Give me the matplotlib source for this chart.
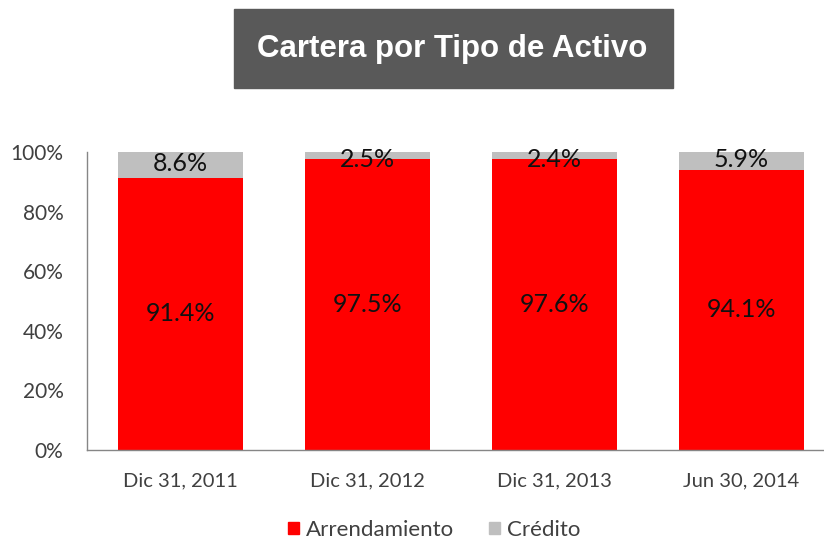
import matplotlib
matplotlib.use("Agg")
import matplotlib.pyplot as plt
from matplotlib.patches import Patch, Rectangle
import numpy as np

categories = ["Dic 31, 2011", "Dic 31, 2012", "Dic 31, 2013", "Jun 30, 2014"]
arrendamiento = [91.4, 97.5, 97.6, 94.1]
credito = [8.6, 2.5, 2.4, 5.9]
yticks = [0, 20, 40, 60, 80, 100]

W, H = 824, 542
fig = plt.figure(figsize=(W / 100, H / 100), dpi=100)
fam = ["Lato", "DejaVu Sans"]

ax = fig.add_axes([87 / W, 1 - 450 / H, (835 - 87) / W, (450 - 152) / H])
x = np.arange(len(categories))
red = "#FF0000"
grey = "#BFBFBF"
bw = 0.67
ax.bar(x, arrendamiento, width=bw, color=red, label="Arrendamiento")
ax.bar(x, credito, width=bw, bottom=arrendamiento, color=grey, label="Crédito")

for xi, a, c in zip(x, arrendamiento, credito):
    ax.text(xi, a / 2, f"{a:.1f}%", ha="center", va="center", fontsize=18,
            color="#111111", family=fam)
    ax.text(xi, a + c / 2 + (0.4 if c > 5 else -1.2), f"{c:.1f}%", ha="center", va="center",
            fontsize=18, color="#111111", family=fam)

ax.set_xlim(-0.5, 3.5)
ax.set_ylim(0, 100)
ax.set_yticks(yticks)
ax.set_yticklabels([f"{v}%" for v in yticks], family=fam, fontsize=15, color="#404040")
ax.set_xticks(x)
ax.set_xticklabels(categories, family=fam, fontsize=14.5, color="#404040")
ax.tick_params(length=0)
ax.tick_params(axis="y", pad=17)
ax.tick_params(axis="x", pad=16)
for s in ["top", "right"]:
    ax.spines[s].set_visible(False)
for s in ["left", "bottom"]:
    ax.spines[s].set_color("#868686")
    ax.spines[s].set_linewidth(1.0)

handles = [Patch(color=red, label="Arrendamiento"), Patch(color=grey, label="Crédito")]
fig.legend(handles=handles, loc="center", bbox_to_anchor=(434 / W, 1 - 530 / H), ncol=2,
           frameon=False, prop={"family": fam, "size": 16}, handlelength=0.5,
           handleheight=0.5, handletextpad=0.3, columnspacing=1.6, labelcolor="#404040")

fig.text(452 / W, 1 - 49 / H, "Cartera por Tipo de Activo", ha="center", va="center",
         fontsize=22.5, fontweight="bold", color="white", family=["Liberation Sans", "DejaVu Sans"])
fig.patches.append(Rectangle((234 / W, 1 - 88 / H), (673 - 234) / W, (88 - 9) / H,
                             transform=fig.transFigure, color="#595959", zorder=-1))

fig.savefig("out.png", dpi=100)
